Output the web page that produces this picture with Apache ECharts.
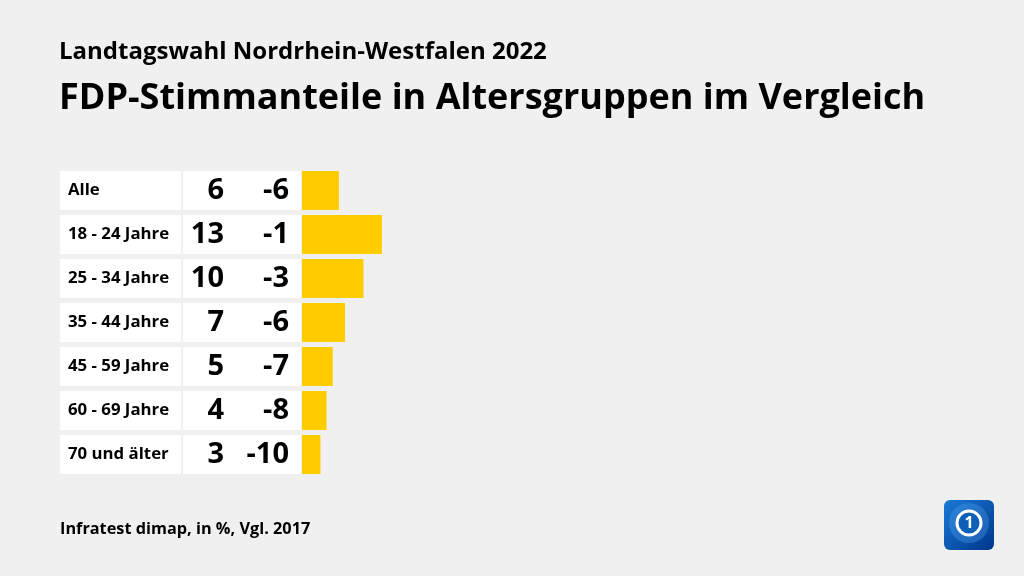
<!DOCTYPE html>
<html><head><meta charset="utf-8">
<script src="https://cdn.jsdelivr.net/npm/echarts@6/dist/echarts.min.js"></script>
<style>html,body{margin:0;padding:0;background:#f0f0f0}#c{width:1024px;height:576px}</style>
</head><body><div id="c"></div>
<script>
var categories = ['Alle','18 - 24 Jahre','25 - 34 Jahre','35 - 44 Jahre','45 - 59 Jahre','60 - 69 Jahre','70 und älter'];
var shares = [6,13,10,7,5,4,3];
var changes = [-6,-1,-3,-6,-7,-8,-10];
var FONT = '"Open Sans", sans-serif';
var chart = echarts.init(document.getElementById('c'));
var boxH = 39;
chart.setOption({
  backgroundColor:'#f0f0f0',
  animation:false,
  title:[
    {text:'Landtagswahl Nordrhein-Westfalen 2022', left:59, top:40, padding:0, textStyle:{fontFamily:FONT,fontWeight:'bold',fontSize:24,color:'#000'}},
    {text:'FDP-Stimmanteile in Altersgruppen im Vergleich', left:59, top:81, padding:0, textStyle:{fontFamily:FONT,fontWeight:'bold',fontSize:36,color:'#000'}},
    {text:'Infratest dimap, in %, Vgl. 2017', left:60, top:521, padding:0, textStyle:{fontFamily:FONT,fontWeight:'bold',fontSize:16.3,color:'#000'}}
  ],
  grid:{left:302, top:168.5, width:123, height:308},
  xAxis:{type:'value', min:0, max:20, show:false},
  yAxis:{type:'category', inverse:true, data:categories,
    axisLine:{show:false}, axisTick:{show:false},
    axisLabel:{margin:1, align:'right',
      formatter:function(v,i){ return '{n|'+v+'}{g| }{a|'+shares[i]+'}{b|'+changes[i]+'}{p| }'; },
      rich:{
        n:{width:113, height:boxH, padding:[0,0,0,8], backgroundColor:'#fff', fontFamily:FONT, fontWeight:'bold', fontSize:16.8, color:'#000', align:'left'},
        g:{width:2, height:boxH, fontSize:10},
        a:{width:41, height:boxH, backgroundColor:'#fff', fontFamily:FONT, fontWeight:'bold', fontSize:29, color:'#000', align:'right'},
        b:{width:65, height:boxH, backgroundColor:'#fff', fontFamily:FONT, fontWeight:'bold', fontSize:29, color:'#000', align:'right'},
        p:{width:12, height:boxH, backgroundColor:'#fff', fontSize:10}
      }
    }
  },
  series:[{type:'bar', data:shares, barWidth:boxH, itemStyle:{color:'#ffcc00'}, silent:true}],
  graphic:[
    {type:'rect', shape:{x:944, y:500, width:50, height:50, r:6},
      style:{fill:new echarts.graphic.LinearGradient(0,0,1,1,[{offset:0,color:'#1a7ad8'},{offset:1,color:'#00368a'}])}},
    {type:'circle', shape:{cx:969, cy:523, r:20}, style:{fill:'rgba(80,160,240,0.35)'}},
    {type:'circle', shape:{cx:969, cy:523, r:12}, style:{fill:'#0d5fb8', stroke:'#fff', lineWidth:3}},
    {type:'text', style:{x:969, y:523, text:'1', fill:'#fff', fontFamily:FONT, fontWeight:'bold', fontSize:16, align:'center', verticalAlign:'middle'}}
  ]
});
</script></body></html>
